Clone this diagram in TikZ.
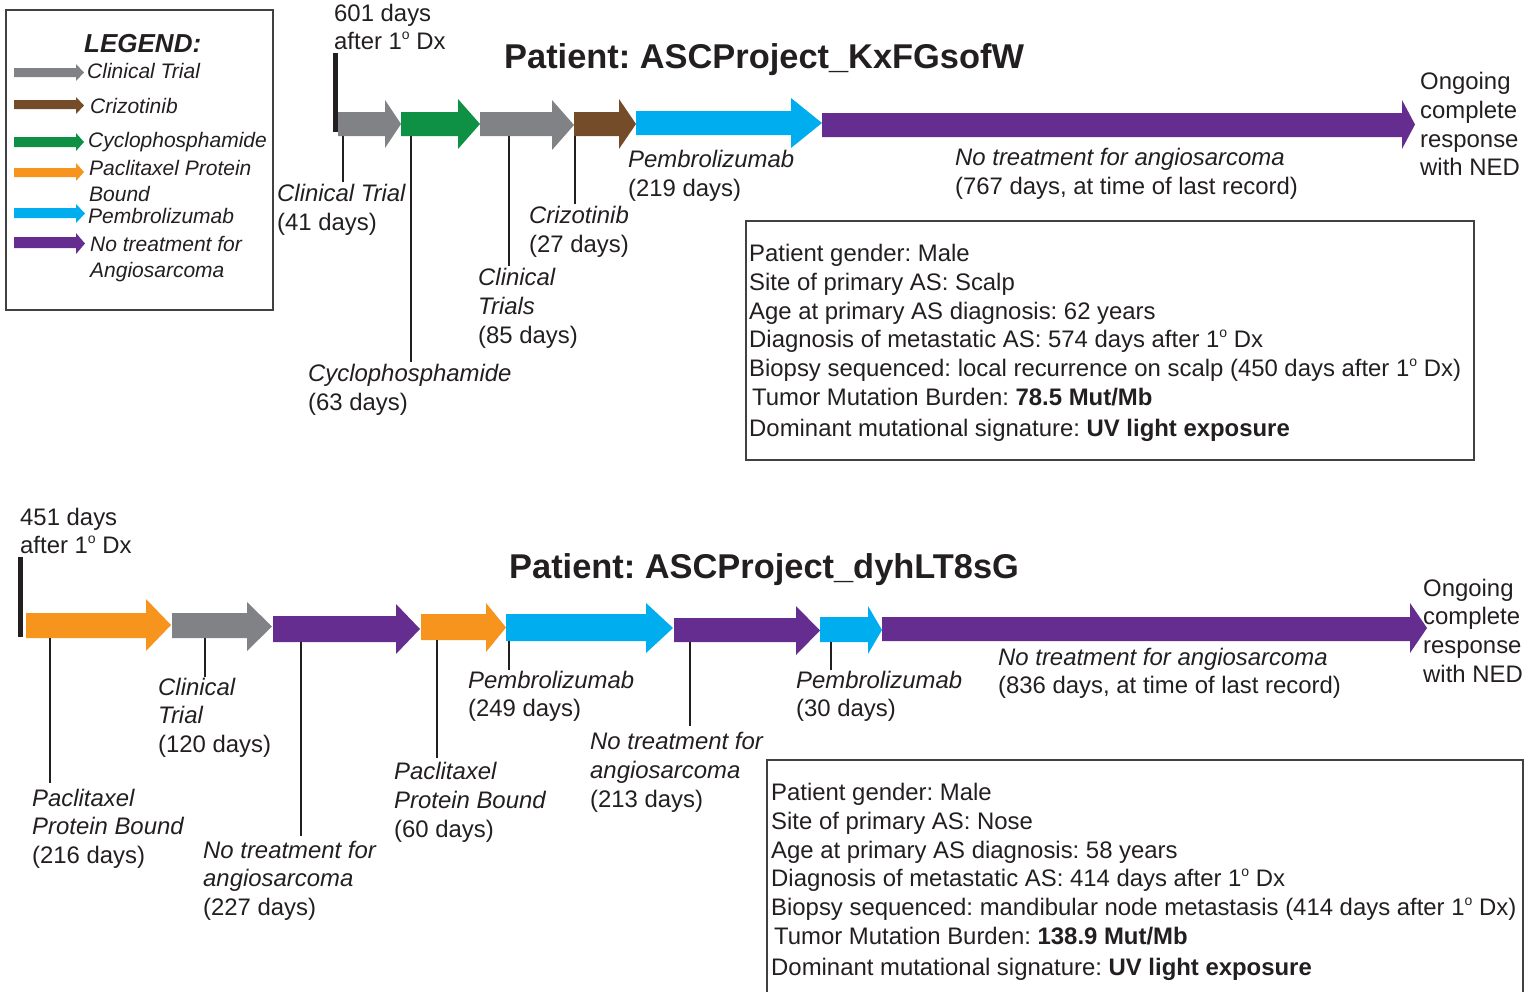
\documentclass[tikz,border=0pt]{standalone}
\usepackage{fontspec}
\setmainfont{Liberation Sans}
\frenchspacing
\definecolor{txt}{HTML}{231F20}
\definecolor{frm}{HTML}{414042}
\definecolor{cgray}{HTML}{808285}
\definecolor{cgreen}{HTML}{0F9145}
\definecolor{cbrown}{HTML}{754C29}
\definecolor{corange}{HTML}{F7941D}
\definecolor{cblue}{HTML}{00AEEF}
\definecolor{cpurple}{HTML}{662D91}
\newcommand{\mystrut}{\rule{0pt}{.75em}}
\newcommand{\dx}{1\raisebox{.42em}{\fontsize{14}{14}\selectfont o} Dx}
% x0, head base, tip, shaft top, shaft bottom, head top, head bottom, colour
\newcommand{\tlarrow}[8]{\fill[#8] (#1,#4) -- (#2,#4) -- (#2,#6) -- (#3,{(#6+#7)/2}) -- (#2,#7) -- (#2,#5) -- (#1,#5) -- cycle;}
\tikzset{
  lab/.style={anchor=north west, inner sep=0pt, align=left, text=txt,
    font=\fontsize{23.9}{28.7}\selectfont},
  leg/.style={anchor=north west, inner sep=0pt, align=left, text=txt,
    font=\fontsize{21}{26}\selectfont\itshape},
  ttl/.style={anchor=base west, inner sep=0pt, text=txt,
    font=\fontsize{34.4}{40}\selectfont\bfseries},
  tick/.style={draw=txt, line width=1.4pt},
  startbar/.style={draw=txt, line width=5pt},
  frame/.style={draw=frm, line width=1.2pt},
}
\begin{document}
\begin{tikzpicture}[x=1pt, y=-1pt]
\useasboundingbox (0,0) rectangle (1536,991);

% ---------------- Legend ----------------
\draw[frame] (6,10) rectangle (273,310);
\node[anchor=base west, inner sep=0pt, text=txt, font=\fontsize{26}{30}\selectfont\bfseries\itshape] (legtitle) at (84,52) {LEGEND:};
\tlarrow{14}{76}{84}{68}{77}{64}{81}{cgray}
\tlarrow{14}{76}{84}{100}{109}{97}{114}{cbrown}
\tlarrow{14}{76}{84}{137}{147}{133}{151}{cgreen}
\tlarrow{14}{76}{84}{168}{177}{163}{181}{corange}
\tlarrow{14}{76}{85}{208}{218}{204}{223}{cblue}
\tlarrow{14}{76}{85}{237}{248}{233}{254}{cpurple}
\node[leg] (legct) at (87,62.3) {\mystrut Clinical Trial};
\node[leg] (legcr) at (90,97.3) {\mystrut Crizotinib};
\node[leg] (legcy) at (88,131.3) {\mystrut Cyclophosphamide};
\node[leg] (legpa) at (89,159.3) {\mystrut Paclitaxel Protein\\Bound};
\node[leg] (legpe) at (88,207.3) {\mystrut Pembrolizumab};
\node[leg] (legno) at (90,235.3) {\mystrut No treatment for\\Angiosarcoma};

% ---------------- Patient 1 ----------------
\node[ttl] (title1) at (504,68) {Patient: ASCProject\_KxFGsofW};
\node[lab] (d601) at (334,3) {\mystrut 601 days\\after \dx};
\draw[startbar] (335.5,53) -- (335.5,132);
\tlarrow{338}{385}{401}{112}{136}{100}{148}{cgray}
\tlarrow{401}{458}{480}{112}{136}{99}{149}{cgreen}
\tlarrow{480}{552}{574}{112}{136}{100}{150}{cgray}
\tlarrow{574}{619}{636}{112}{136}{99}{149}{cbrown}
\tlarrow{636}{791}{822}{111}{135}{98}{148}{cblue}
\tlarrow{822}{1402}{1415}{113}{137}{100}{149}{cpurple}

\node[lab] (l1ct) at (277,183.5) {\mystrut\textit{Clinical Trial}\\(41 days)};
\node[lab] (l1cy) at (308,363.5) {\mystrut\textit{Cyclophosphamide}\\(63 days)};
\node[lab] (l1ct2) at (478,267.5) {\mystrut\textit{Clinical}\\\textit{Trials}\\(85 days)};
\node[lab] (l1cr) at (529,205.5) {\mystrut\textit{Crizotinib}\\(27 days)};
\node[lab] (l1pe) at (628,149.5) {\mystrut\textit{Pembrolizumab}\\(219 days)};
\node[lab] (l1no) at (955,147.5) {\mystrut\textit{No treatment for angiosarcoma}\\(767 days, at time of last record)};
\node[lab] (l1on) at (1420,71.5) {\mystrut Ongoing\\complete\\response\\with NED};

\coordinate (k1a) at (343,136);
\coordinate (k1b) at (411,136);
\coordinate (k1c) at (509,136);
\coordinate (k1d) at (575,136);
\draw[tick] (k1a) -- ([yshift=2pt]k1a |- l1ct.north);
\draw[tick] (k1b) -- ([yshift=2pt]k1b |- l1cy.north);
\draw[tick] (k1c) -- ([yshift=2pt]k1c |- l1ct2.north);
\draw[tick] (k1d) -- ([yshift=2pt]k1d |- l1cr.north);

\draw[frame] (746,221) rectangle (1474,460);
\node[lab] (info1) at (749,243.5) {\mystrut Patient gender: Male\\
Site of primary AS: Scalp\\
Age at primary AS diagnosis: 62 years\\
Diagnosis of metastatic AS: 574 days after \dx\\
Biopsy sequenced: local recurrence on scalp (450 days after \dx)\\
\hspace*{3pt}Tumor Mutation Burden: \textbf{78.5 Mut/Mb}\\[3pt]
Dominant mutational signature: \textbf{UV light exposure}};

% ---------------- Patient 2 ----------------
\node[ttl] (title2) at (509,578) {Patient: ASCProject\_dyhLT8sG};
\node[lab] (d451) at (20,507) {\mystrut 451 days\\after \dx};
\draw[startbar] (20.5,557) -- (20.5,637);
\tlarrow{26}{146}{171}{613}{638}{599}{651}{corange}
\tlarrow{172}{247}{272}{613}{638}{602}{651}{cgray}
\tlarrow{273}{396}{420}{616}{642}{604}{654}{cpurple}
\tlarrow{421}{486}{506}{614}{640}{603}{652}{corange}
\tlarrow{506}{646}{673}{614}{641}{603}{653}{cblue}
\tlarrow{674}{796}{820}{618}{642}{606}{655}{cpurple}
\tlarrow{820}{868}{882}{617}{642}{606}{654}{cblue}
\tlarrow{882}{1410}{1427}{617}{641}{603}{653}{cpurple}

\node[lab] (l2pa) at (32,788) {\mystrut\textit{Paclitaxel}\\\textit{Protein Bound}\\(216 days)};
\node[lab] (l2ct) at (158,677) {\mystrut\textit{Clinical}\\\textit{Trial}\\(120 days)};
\node[lab] (l2no) at (203,840) {\mystrut\textit{No treatment for}\\\textit{angiosarcoma}\\(227 days)};
\node[lab] (l2pa2) at (394,761.5) {\mystrut\textit{Paclitaxel}\\\textit{Protein Bound}\\(60 days)};
\node[lab] (l2pe) at (468,670) {\mystrut\textit{Pembrolizumab}\\(249 days)};
\node[lab] (l2no2) at (590,731.5) {\mystrut\textit{No treatment for}\\\textit{angiosarcoma}\\(213 days)};
\node[lab] (l2pe2) at (796,670) {\mystrut\textit{Pembrolizumab}\\(30 days)};
\node[lab] (l2no3) at (998,647) {\mystrut\textit{No treatment for angiosarcoma}\\(836 days, at time of last record)};
\node[lab] (l2on) at (1423,578) {\mystrut Ongoing\\complete\\response\\with NED};

\coordinate (k2a) at (50,638);
\coordinate (k2b) at (205,638);
\coordinate (k2c) at (301,642);
\coordinate (k2d) at (437,640);
\coordinate (k2e) at (509,641);
\coordinate (k2f) at (690,642);
\coordinate (k2g) at (831,642);
\draw[tick] (k2a) -- ([yshift=5pt]k2a |- l2pa.north);
\draw[tick] (k2b) -- ([yshift=0pt]k2b |- l2ct.north);
\draw[tick] (k2c) -- ([yshift=4pt]k2c |- l2no.north);
\draw[tick] (k2d) -- ([yshift=4pt]k2d |- l2pa2.north);
\draw[tick] (k2e) -- ([yshift=0pt]k2e |- l2pe.north);
\draw[tick] (k2f) -- ([yshift=6pt]k2f |- l2no2.north);
\draw[tick] (k2g) -- ([yshift=0pt]k2g |- l2pe2.north);

\draw[frame] (767,995) -- (767,760) -- (1523,760) -- (1523,995);
\node[lab] (info2) at (771,782.5) {\mystrut Patient gender: Male\\
Site of primary AS: Nose\\
Age at primary AS diagnosis: 58 years\\
Diagnosis of metastatic AS: 414 days after \dx\\
Biopsy sequenced: mandibular node metastasis (414 days after \dx)\\
\hspace*{3pt}Tumor Mutation Burden: \textbf{138.9 Mut/Mb}\\[3pt]
Dominant mutational signature: \textbf{UV light exposure}};
\end{tikzpicture}
\end{document}
